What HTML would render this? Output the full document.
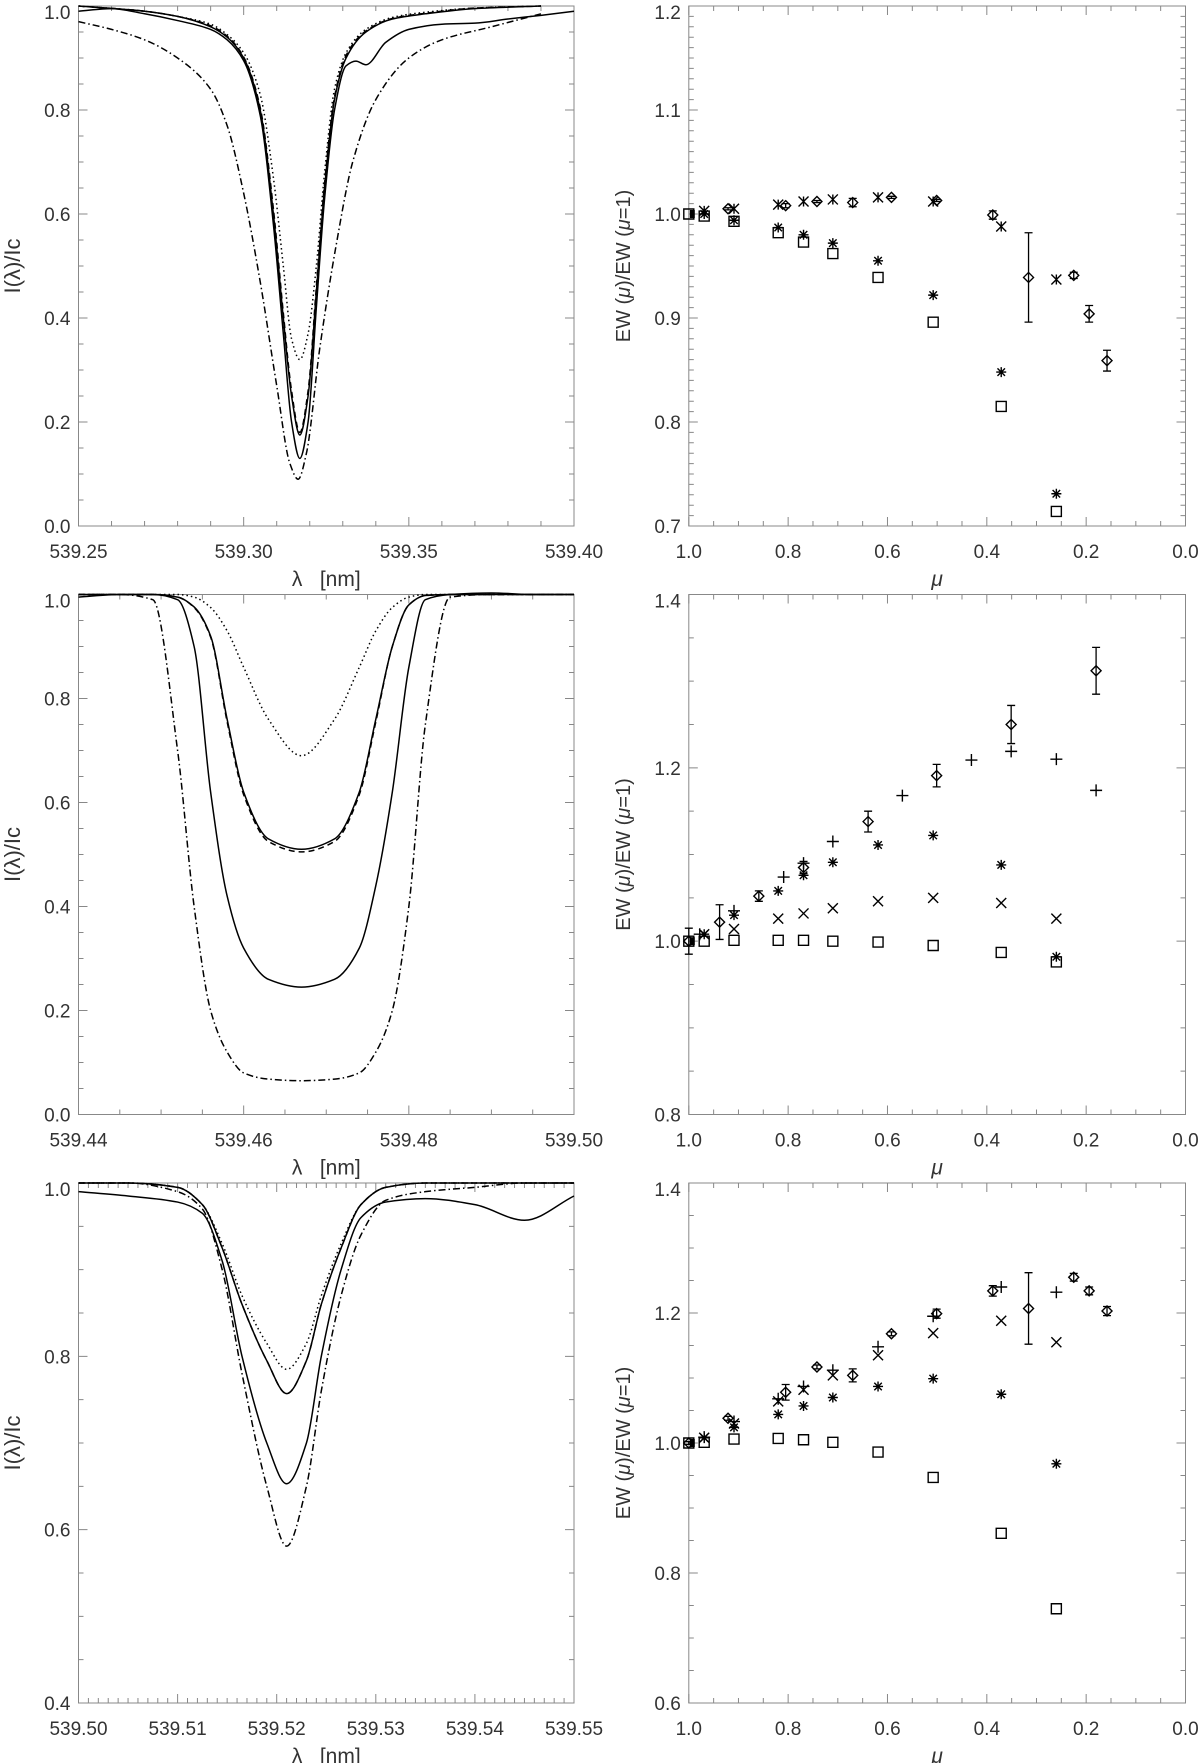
<!DOCTYPE html>
<html><head><meta charset="utf-8">
<style>
html,body{margin:0;padding:0;background:#fff;}
svg{display:block;}
text{font-family:"Liberation Sans",sans-serif;fill:#333;}
</style></head>
<body>
<svg id="fig" width="1200" height="1763" viewBox="0 0 1200 1763" xmlns="http://www.w3.org/2000/svg"></svg>
<script>
// ---------- Panel 1 (left, row 1) spectral profiles ----------
const p1SolidALam = [539.25,539.27,539.28,539.29,539.295,539.300,539.305,539.309,539.312,539.3145,539.317,539.3195,539.322,539.3245,539.3275,539.331,539.337,539.345,539.355,539.37,539.39];
const p1SolidAI   = [1.0,0.99,0.98,0.96,0.94,0.9,0.8,0.6,0.4,0.25,0.175,0.25,0.45,0.65,0.82,0.9,0.95,0.975,0.985,0.995,1.0];
const p1DashedI   = [1.0,0.99,0.98,0.962,0.942,0.902,0.805,0.61,0.41,0.26,0.18,0.26,0.46,0.66,0.825,0.905,0.952,0.976,0.986,0.996,1.0];
const p1DottedI   = [1.0,0.99,0.98,0.965,0.945,0.91,0.83,0.67,0.5,0.36,0.32,0.37,0.5,0.68,0.84,0.91,0.955,0.978,0.988,0.996,1.0];
const p1SolidBLam = [539.25,539.26,539.27,539.28,539.29,539.295,539.300,539.305,539.309,539.312,539.3145,539.317,539.3195,539.322,539.3245,539.3275,539.331,539.334,539.337,539.343,539.35,539.36,539.37,539.38,539.39,539.40];
const p1SolidBI   = [0.99,0.995,0.985,0.972,0.955,0.935,0.895,0.79,0.58,0.37,0.2,0.13,0.2,0.42,0.63,0.8,0.885,0.894,0.887,0.93,0.955,0.965,0.967,0.975,0.982,0.99];
const p1DashDotLam = [539.25,539.26,539.27,539.28,539.29,539.295,539.30,539.305,539.31,539.314,539.3165,539.319,539.323,539.328,539.333,539.34,539.35,539.36,539.375,539.39];
const p1DashDotI   = [0.97,0.955,0.935,0.9,0.84,0.77,0.64,0.47,0.27,0.12,0.09,0.14,0.34,0.54,0.7,0.82,0.9,0.935,0.96,0.985];

// ---------- Panel 3 (left, row 2) ----------
const p3Lam      = [539.44,539.445,539.449,539.452,539.454,539.456,539.458,539.460,539.463,539.467,539.471,539.474,539.476,539.478,539.480,539.482,539.485,539.49,539.495,539.50];
const p3DottedI  = [1.0,1.0,1.0,1.0,0.995,0.975,0.93,0.86,0.76,0.69,0.76,0.86,0.93,0.975,0.995,1.0,1.0,1.0,1.0,1.0];
const p3SolidAI  = [1.0,1.0,1.0,0.995,0.976,0.92,0.76,0.62,0.53,0.51,0.53,0.62,0.76,0.9,0.98,0.998,1.0,1.0,1.0,1.0];
const p3DashedI  = [1.0,1.0,1.0,0.995,0.975,0.918,0.755,0.615,0.525,0.505,0.525,0.615,0.755,0.9,0.98,0.998,1.0,1.0,1.0,1.0];
const p3SolidBI  = [0.995,1.0,1.0,0.99,0.9,0.62,0.42,0.32,0.26,0.245,0.26,0.32,0.44,0.62,0.86,0.99,1.0,1.003,1.0,1.0];
const p3DashDotI = [1.0,1.0,0.99,0.7,0.4,0.2,0.12,0.08,0.068,0.065,0.068,0.08,0.12,0.2,0.4,0.75,0.995,1.0,1.0,1.0];

// ---------- Panel 5 (left, row 3) ----------
const p5Lam      = [539.50,539.505,539.51,539.5125,539.5145,539.5165,539.519,539.521,539.523,539.5245,539.5265,539.5285,539.531,539.535,539.54,539.545,539.55];
const p5DottedI  = [1.0,1.0,0.995,0.975,0.93,0.87,0.815,0.785,0.815,0.87,0.93,0.975,0.995,1.0,1.0,1.0,1.0];
const p5SolidAI  = [1.0,1.0,0.995,0.975,0.925,0.86,0.795,0.757,0.795,0.86,0.925,0.975,0.995,1.0,1.0,1.0,1.0];
const p5SolidBI  = [0.99,0.985,0.978,0.965,0.91,0.8,0.7,0.653,0.7,0.8,0.9,0.96,0.978,0.982,0.975,0.957,0.985];
const p5DashDotI = [1.0,1.0,0.99,0.97,0.9,0.78,0.65,0.581,0.65,0.76,0.87,0.94,0.98,0.99,0.995,1.0,1.0];

// ---------- Panel 2 (right, row 1) EW ratios ----------
const r1SqMu = [1.0,0.969,0.909,0.82,0.769,0.71,0.619,0.508,0.371,0.26];
const r1SqV  = [1.0,0.998,0.993,0.982,0.973,0.962,0.939,0.896,0.815,0.714];
const r1AsMu = [0.969,0.909,0.82,0.769,0.71,0.619,0.508,0.371,0.26];
const r1AsV  = [1.0,0.994,0.987,0.98,0.972,0.955,0.922,0.848,0.731];
const r1XMu  = [0.969,0.909,0.82,0.769,0.71,0.619,0.508,0.371,0.26];
const r1XV   = [1.003,1.005,1.009,1.012,1.014,1.016,1.012,0.988,0.937];
const r1DMu  = [0.921,0.805,0.742,0.67,0.592,0.501,0.388,0.316,0.225,0.194,0.158];
const r1DV   = [1.005,1.008,1.012,1.011,1.016,1.013,0.999,0.939,0.941,0.904,0.859];
const r1DErr = [0.001,0.002,0.001,0.004,0.001,0.001,0.004,0.043,0.003,0.008,0.01];

// ---------- Panel 4 (right, row 2) ----------
const r2SqMu = [1.0,0.969,0.909,0.82,0.769,0.71,0.619,0.508,0.371,0.26];
const r2SqV  = [1.0,1.0,1.001,1.001,1.001,1.0,0.999,0.995,0.987,0.976];
const r2AsMu = [0.969,0.909,0.82,0.769,0.71,0.619,0.508,0.371,0.26];
const r2AsV  = [1.008,1.03,1.058,1.076,1.091,1.111,1.122,1.088,0.982];
const r2XMu  = [0.969,0.909,0.82,0.769,0.71,0.619,0.508,0.371,0.26];
const r2XV   = [1.008,1.014,1.026,1.032,1.038,1.046,1.05,1.044,1.026];
const r2PMu  = [0.978,0.909,0.809,0.769,0.71,0.57,0.431,0.351,0.26,0.18];
const r2PV   = [1.008,1.035,1.074,1.09,1.115,1.168,1.209,1.219,1.21,1.174];
const r2DMu  = [1.0,0.938,0.859,0.769,0.639,0.501,0.351,0.18];
const r2DV   = [1.0,1.022,1.052,1.085,1.138,1.191,1.25,1.312];
const r2DErr = [0.015,0.02,0.006,0.007,0.012,0.013,0.022,0.027];

// ---------- Panel 6 (right, row 3) ----------
const r3SqMu = [1.0,0.969,0.909,0.82,0.769,0.71,0.619,0.508,0.371,0.26];
const r3SqV  = [1.0,1.001,1.006,1.007,1.005,1.001,0.986,0.947,0.861,0.745];
const r3AsMu = [0.969,0.909,0.82,0.769,0.71,0.619,0.508,0.371,0.26];
const r3AsV  = [1.008,1.024,1.044,1.057,1.07,1.087,1.099,1.075,0.968];
const r3XMu  = [0.969,0.909,0.82,0.769,0.71,0.619,0.508,0.371,0.26];
const r3XV   = [1.008,1.03,1.064,1.082,1.104,1.135,1.169,1.188,1.155];
const r3PMu  = [0.969,0.909,0.82,0.769,0.71,0.619,0.508,0.371,0.26];
const r3PV   = [1.009,1.033,1.068,1.087,1.112,1.148,1.195,1.24,1.232];
const r3DMu  = [1.0,0.921,0.805,0.742,0.67,0.592,0.501,0.388,0.316,0.225,0.194,0.158];
const r3DV   = [1.0,1.038,1.078,1.117,1.104,1.168,1.199,1.234,1.207,1.255,1.234,1.203];
const r3DErr = [0.002,0.003,0.012,0.003,0.01,0.003,0.007,0.008,0.055,0.006,0.006,0.007];

const xTicks1 = ["539.25","539.30","539.35","539.40"];
const xTicks3 = ["539.44","539.46","539.48","539.50"];
const xTicks5 = ["539.50","539.51","539.52","539.53","539.54","539.55"];
const muTicks = ["1.0","0.8","0.6","0.4","0.2","0.0"];

const NS = "http://www.w3.org/2000/svg";
const svg = document.getElementById('fig');
function el(tag, attrs, parent){
  const e = document.createElementNS(NS, tag);
  for (const k in attrs) e.setAttribute(k, attrs[k]);
  (parent||svg).appendChild(e);
  return e;
}

function makePanel(name, L, R, T, B, x0, x1, y0, y1, xMaj, xMin, yMaj, yMin, xLabels, yDec, xTitle, yTitle, yTitleX, yTitleSize){
  const g = el('g', {});
  
  
  const sx = v => L + (v - x0) / (x1 - x0) * (R - L);
  const sy = v => B - (v - y0) / (y1 - y0) * (B - T);
  const frame = el('rect', {x:L, y:T, width:R-L, height:B-T, fill:'none', stroke:'#888', 'stroke-width':1}, g);
  
  
  let d = '';
  const lo = Math.min(x0,x1), hi = Math.max(x0,x1);
  const nx = Math.round((hi - lo) / xMin);
  for (let i = 0; i <= nx; i++) {
    const v = lo + i * xMin; const px = sx(v);
    const major = Math.abs(Math.round((v - lo) / xMaj) * xMaj - (v - lo)) < xMin * 0.01;
    const len = major ? 9 : 5;
    d += `M${px},${B}v${-len}M${px},${T}v${len}`;
  }
  const ny = Math.round((y1 - y0) / yMin);
  for (let i = 0; i <= ny; i++) {
    const v = y0 + i * yMin; const py = sy(v);
    const major = Math.abs(Math.round((v - y0) / yMaj) * yMaj - (v - y0)) < yMin * 0.01;
    const len = major ? 9 : 5;
    d += `M${L},${py}h${len}M${R},${py}h${-len}`;
  }
  const ticks = el('path', {d:d, stroke:'#888', 'stroke-width':1, fill:'none'}, g);
  
  
  xLabels.forEach((lab, i) => {
    const v = x0 + i * xMaj * (x1 > x0 ? 1 : -1);
    const t = el('text', {x:sx(v), y:B+32, 'font-size':19, 'text-anchor':'middle'}, g);
    t.textContent = lab;
    
    
  });
  const nyMaj = Math.round((y1 - y0) / yMaj);
  for (let i = 0; i <= nyMaj; i++) {
    const v = y0 + i * yMaj;
    let py = sy(v) + 7;
    if (i === nyMaj) py += 6;
    const t = el('text', {x:L-8, y:py, 'font-size':19, 'text-anchor':'end'}, g);
    t.textContent = v.toFixed(yDec);
    
    
  }
  const xt = el('text', {x:(L+R)/2, y:B+60, 'font-size':21, 'text-anchor':'middle', fill:'#000'}, g);
  xt.innerHTML = xTitle;
  
  
  const cy = (T+B)/2;
  const yt = el('text', {x:yTitleX, y:cy, 'font-size':yTitleSize, 'text-anchor':'middle', transform:`rotate(-90 ${yTitleX} ${cy})`, fill:'#111'}, g);
  yt.innerHTML = yTitle;
  
  
  return {g, sx, sy};
}

// monotone cubic (Fritsch-Carlson) path through points with increasing x
function monoPath(xs, ys){
  const n = xs.length;
  const dx = [], m = [], t = new Array(n);
  for (let i = 0; i < n-1; i++) { dx.push(xs[i+1]-xs[i]); m.push((ys[i+1]-ys[i])/(xs[i+1]-xs[i])); }
  t[0] = m[0]; t[n-1] = m[n-2];
  for (let i = 1; i < n-1; i++) {
    if (m[i-1]*m[i] <= 0) t[i] = 0;
    else t[i] = 3*(dx[i-1]+dx[i]) / ((2*dx[i]+dx[i-1])/m[i-1] + (dx[i]+2*dx[i-1])/m[i]);
  }
  let d = `M${xs[0]},${ys[0]}`;
  for (let i = 0; i < n-1; i++) {
    const h = dx[i]/3;
    d += `C${xs[i]+h},${ys[i]+t[i]*h} ${xs[i+1]-h},${ys[i+1]-t[i+1]*h} ${xs[i+1]},${ys[i+1]}`;
  }
  return d;
}
function curve(P, lam, I, dash, name, w){
  const p = el('path', {d:monoPath(lam.map(P.sx), I.map(P.sy)), fill:'none', stroke:'#000', 'stroke-width':w||1.5, 'stroke-dasharray':dash||'none'}, P.g);
  
  
}
const DOT = '1.5,3', DASH = '6,4', DASHDOT = '7,3,1.5,3';

const yTitleL = 'I(λ)/Ic';
const yTitleR = 'EW&#160;(<tspan font-style="italic">μ</tspan>)/EW&#160;(<tspan font-style="italic">μ</tspan>=1)';
const xTitleL = 'λ&#160;&#160;&#160;[nm]';
const xTitleR = '<tspan font-style="italic">μ</tspan>';

const rows = [6, 594.5, 1183];
const H = 520;

const P1 = makePanel('profile-panel-1', 78.5, 574, rows[0], rows[0]+H, 539.25, 539.40, 0, 1.0, 0.05, 0.01, 0.2, 0.05, xTicks1, 1, xTitleL, yTitleL, 20, 22);
curve(P1, p1SolidALam, p1DottedI, DOT, 'dotted-profile');
curve(P1, p1SolidALam, p1DashedI, DASH, 'dashed-profile');
curve(P1, p1SolidALam, p1SolidAI, null, 'solid-profile-a');
curve(P1, p1SolidBLam, p1SolidBI, null, 'solid-profile-observed');
curve(P1, p1DashDotLam, p1DashDotI, DASHDOT, 'dashdot-profile');

const P3 = makePanel('profile-panel-2', 78.5, 574, rows[1], rows[1]+H, 539.44, 539.50, 0, 1.0, 0.02, 0.005, 0.2, 0.05, xTicks3, 1, xTitleL, yTitleL, 20, 22);
curve(P3, p3Lam, p3DottedI, DOT, 'dotted-profile');
curve(P3, p3Lam, p3DashedI, DASH, 'dashed-profile');
curve(P3, p3Lam, p3SolidAI, null, 'solid-profile-a');
curve(P3, p3Lam, p3SolidBI, null, 'solid-profile-observed');
curve(P3, p3Lam, p3DashDotI, DASHDOT, 'dashdot-profile');

const P5 = makePanel('profile-panel-3', 78.5, 574, rows[2], rows[2]+H, 539.50, 539.55, 0.4, 1.0, 0.01, 0.001, 0.2, 0.05, xTicks5, 1, xTitleL, yTitleL, 20, 22);
curve(P5, p5Lam, p5DottedI, DOT, 'dotted-profile');
curve(P5, p5Lam, p5SolidAI, DASH, 'dashed-profile');
curve(P5, p5Lam, p5SolidAI, null, 'solid-profile-a');
curve(P5, p5Lam, p5SolidBI, null, 'solid-profile-observed');
curve(P5, p5Lam, p5DashDotI, DASHDOT, 'dashdot-profile');

function marker(P, type, mu, v){
  const x = P.sx(mu), y = P.sy(v), s = 5;
  let d;
  if (type === 'sq') d = `M${x-5},${y-5}h10v10h-10z`;
  else if (type === 'as') d = `M${x-s},${y}h${2*s}M${x},${y-s}v${2*s}M${x-s*0.75},${y-s*0.75}l${1.5*s},${1.5*s}M${x-s*0.75},${y+s*0.75}l${1.5*s},${-1.5*s}`;
  else if (type === 'x') d = `M${x-s},${y-s}l${2*s},${2*s}M${x-s},${y+s}l${2*s},${-2*s}`;
  else if (type === 'xv') d = `M${x-s},${y-s}l${2*s},${2*s}M${x-s},${y+s}l${2*s},${-2*s}M${x},${y-s}v${2*s}`;
  else if (type === 'p') d = `M${x-6},${y}h12M${x},${y-6}v12`;
  else if (type === 'd') d = `M${x},${y-5}l5,5l-5,5l-5,-5z`;
  const p = el('path', {d:d, fill:'none', stroke:'#000', 'stroke-width':1.4}, P.g);
  
  
}
function errbar(P, mu, v, e){
  const x = P.sx(mu), y1 = P.sy(v+e), y2 = P.sy(v-e);
  const p = el('path', {d:`M${x},${y1}V${y2}M${x-4},${y1}h8M${x-4},${y2}h8`, fill:'none', stroke:'#000', 'stroke-width':1.3}, P.g);
  
  
}
function series(P, type, mus, vs){ mus.forEach((m,i) => marker(P, type, m, vs[i])); }
function diamonds(P, mus, vs, es){ mus.forEach((m,i) => { errbar(P, m, vs[i], es[i]); marker(P, 'd', m, vs[i]); }); }
function origin(P){
  const r = el('rect', {x:P.sx(1.0)+1, y:P.sy(1.0)-4, width:5, height:8, fill:'#000'}, P.g);
  
  
}

const P2 = makePanel('ew-panel-1', 688.8, 1185.5, rows[0], rows[0]+H, 1.0, 0.0, 0.7, 1.2, 0.2, 0.05, 0.1, 0.01, muTicks, 1, xTitleR, yTitleR, 630, 20);
series(P2, 'sq', r1SqMu, r1SqV);
series(P2, 'as', r1AsMu, r1AsV);
series(P2, 'xv', r1XMu, r1XV);
diamonds(P2, r1DMu, r1DV, r1DErr);
origin(P2);

const P4 = makePanel('ew-panel-2', 688.8, 1185.5, rows[1], rows[1]+H, 1.0, 0.0, 0.8, 1.4, 0.2, 0.05, 0.2, 0.05, muTicks, 1, xTitleR, yTitleR, 630, 20);
series(P4, 'sq', r2SqMu, r2SqV);
series(P4, 'as', r2AsMu, r2AsV);
series(P4, 'x', r2XMu, r2XV);
series(P4, 'p', r2PMu, r2PV);
diamonds(P4, r2DMu, r2DV, r2DErr);
origin(P4);

const P6 = makePanel('ew-panel-3', 688.8, 1185.5, rows[2], rows[2]+H, 1.0, 0.0, 0.6, 1.4, 0.2, 0.05, 0.2, 0.05, muTicks, 1, xTitleR, yTitleR, 630, 20);
series(P6, 'sq', r3SqMu, r3SqV);
series(P6, 'as', r3AsMu, r3AsV);
series(P6, 'x', r3XMu, r3XV);
series(P6, 'p', r3PMu, r3PV);
diamonds(P6, r3DMu, r3DV, r3DErr);
origin(P6);
</script>
</body></html>
